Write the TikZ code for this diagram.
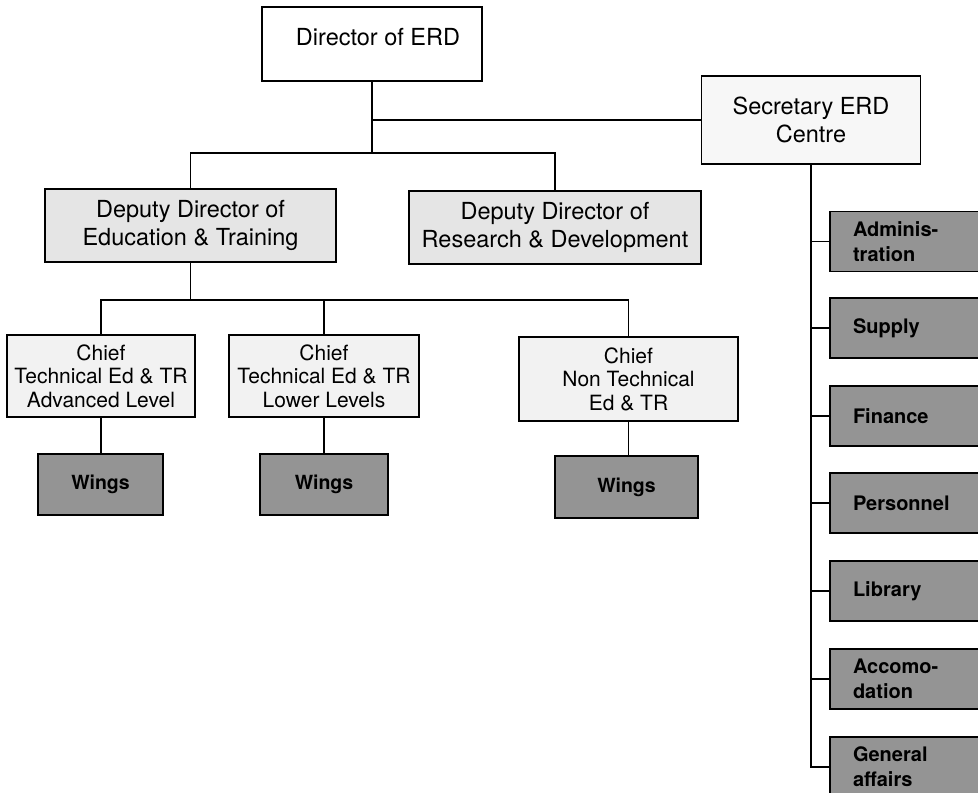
\documentclass[tikz,border=0pt]{standalone}
\usepackage{fontspec}
\setmainfont{TeX Gyre Heros}
\begin{document}
\begin{tikzpicture}[x=1pt,y=-1pt,
  box/.style={draw=black, line width=1.8pt, rectangle, inner sep=0pt, align=center, text=black},
  bigtxt/.style={font=\fontsize{23.5}{28}\selectfont},
  chieftxt/.style={font=\fontsize{21}{23.5}\selectfont},
  darkbox/.style={box, fill=black!42, font=\bfseries\fontsize{20}{25}\selectfont},
  wingbox/.style={darkbox, font=\bfseries\fontsize{19.5}{24}\selectfont},
  rbox/.style={darkbox, text width=140pt, inner xsep=23pt, align=left, minimum height=60pt},
  conn/.style={draw=black, line width=1.6pt}]
\clip (0,0) rectangle (978,793);
\fill[white] (0,0) rectangle (978,793);
% top
\node[box, fill=white, minimum width=220pt, minimum height=74pt] (dir) at (372,44) {};
\node[bigtxt] (dirt) at (378,37) {Director of ERD};
\node[box, fill=black!3, minimum width=219pt, minimum height=88pt, bigtxt] (sec) at (811,120) {Secretary ERD\\Centre};
% deputies
\node[box, fill=black!10, minimum width=291pt, minimum height=73pt, bigtxt] (dep1) at (190.5,225.5) {Deputy Director of\\Education \& Training};
\node[box, fill=black!10, minimum width=292pt, minimum height=73pt, bigtxt] (dep2) at (555,227.5) {Deputy Director of\\Research \& Development};
% chiefs
\node[box, fill=black!5, minimum width=188pt, minimum height=82pt, chieftxt] (ch1) at (101,376) {Chief\\Technical Ed \& TR\\Advanced Level};
\node[box, fill=black!5, minimum width=190pt, minimum height=82pt, chieftxt] (ch2) at (324,376) {Chief\\Technical Ed \& TR\\Lower Levels};
\node[box, fill=black!5, minimum width=219pt, minimum height=84pt, chieftxt] (ch3) at (628.5,379) {Chief\\Non Technical\\Ed \& TR};
% wings
\node[wingbox, minimum width=125pt, minimum height=61pt] (w1) at (100.5,484.5) {Wings};
\node[wingbox, minimum width=128pt, minimum height=61pt] (w2) at (324,484.5) {Wings};
\node[wingbox, minimum width=143pt, minimum height=62pt] (w3) at (626.5,487) {Wings};
% right column
\node[rbox] (adm) at (923,241.5) {Adminis-\\tration};
\node[rbox] (sup) at (923,328) {Supply};
\node[rbox] (fin) at (923,416) {Finance};
\node[rbox] (per) at (923,503) {Personnel};
\node[rbox] (lib) at (923,591) {Library};
\node[rbox] (acc) at (923,679) {Accomo-\\dation};
\node[rbox] (gen) at (923,767) {General\\affairs};
% connectors
\coordinate (j1) at (372,153);
\coordinate (j2) at (190.5,300);
\draw[conn] (dir.south) -- (j1);
\draw[conn] (dir.south |- sec.west) -- (sec.west);
\draw[conn] (dep1.north) -- (dep1.north |- j1) -| (dep2.north);
\draw[conn] (dep1.south) -- (j2);
\draw[conn] (ch1.north) -- (ch1.north |- j2) -| (ch3.north);
\draw[conn] (ch2.north) -- (ch2.north |- j2);
\draw[conn] (ch1.south) -- (ch1.south |- w1.north);
\draw[conn] (ch2.south) -- (ch2.south |- w2.north);
\draw[conn] (ch3.south) -- (ch3.south |- w3.north);
\foreach \n in {adm,sup,fin,per,lib,acc,gen}
  \draw[conn] (sec.south) |- (\n.west);
\end{tikzpicture}
\end{document}
